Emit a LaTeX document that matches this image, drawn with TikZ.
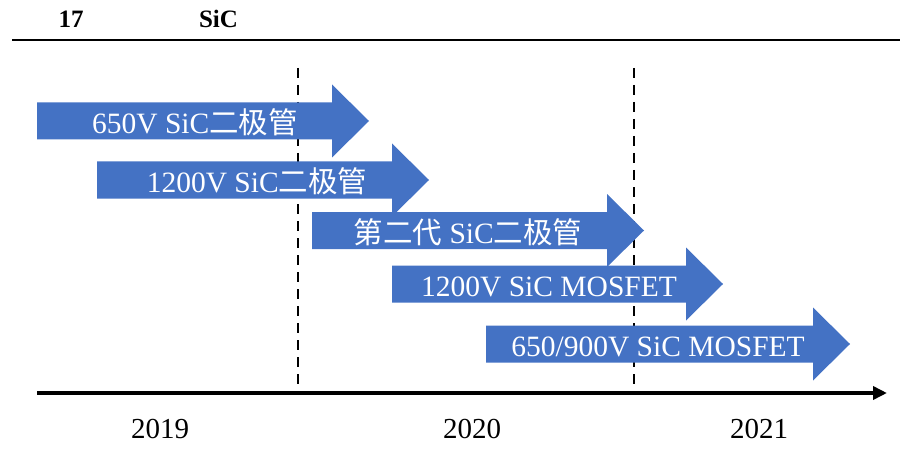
\documentclass[tikz,border=0pt]{standalone}
\usepackage{fontspec}
\setmainfont{Liberation Serif}
\newfontfamily\cjk{Noto Sans CJK SC}
\usetikzlibrary{arrows.meta}
\definecolor{phaseblue}{HTML}{4472C4}
\tikzset{
  phase/.style={
    % The filling:
    fill=phaseblue,
  },
  phase label/.style={
    % Font
    font=\fontsize{29.5}{30}\selectfont,
    text=white,
    anchor=base,
    % padding around node
    inner sep=0pt,
  },
  year/.style={
    font=\fontsize{29}{30}\selectfont,
    anchor=base,
    inner sep=0pt,
  },
  heading/.style={
    font=\fontsize{25}{26}\selectfont\bfseries,
    anchor=base,
    inner sep=0pt,
  },
  boundary/.style={
    % The line:
    line width=2pt,
    dash pattern=on 10pt off 7pt,
  },
}
% #1 = tail x, #2 = where the head starts, #3 = middle y
\newcommand{\phasearrow}[3]{%
  \fill[phase] (#1, #3-18.5) -- (#2, #3-18.5) -- (#2, #3-36.5) -- (#2+37, #3)
    -- (#2, #3+36.5) -- (#2, #3+18.5) -- (#1, #3+18.5) -- cycle;
}

\begin{document}
\begin{tikzpicture}[x=1pt, y=-1pt]

  \useasboundingbox (0, 0) rectangle (909, 457);

  % heading and rule
  \node at (71, 28) (fig no) [heading] {17};
  \node at (218.5, 28) (fig title) [heading] {SiC};
  \coordinate (rule start) at (12, 40);
  \coordinate (rule end) at (900, 40);
  \draw [line width=2.2pt] (rule start) to (rule end);

  % year boundaries
  \coordinate (cut a top) at (297.5, 68);
  \coordinate (cut a bottom) at (297.5, 393);
  \coordinate (cut b top) at (633.5, 68);
  \coordinate (cut b bottom) at (633.5, 393);
  \draw [boundary] (cut a top) to (cut a bottom);
  \draw [boundary] (cut b top) to (cut b bottom);

  % product arrows
  \phasearrow{37}{332}{121}
  \phasearrow{97}{392}{180}
  \phasearrow{312}{607}{230.5}
  \phasearrow{392}{686}{284}
  \phasearrow{486}{813}{344}

  \node at (195, 133.5) (diode 650) [phase label] {650V SiC{\cjk 二极管}};
  \node at (257, 192.5) (diode 1200) [phase label] {1200V SiC{\cjk 二极管}};
  \node at (468, 243) (diode gen2) [phase label] {{\cjk 第二代} SiC{\cjk 二极管}};
  \node at (549, 296.5) (mos 1200) [phase label] {1200V SiC MOSFET};
  \node at (658, 356.5) (mos 650) [phase label] {650/900V SiC MOSFET};

  % time axis
  \coordinate (axis start) at (37, 393);
  \coordinate (axis end) at (887, 393);
  \draw [line width=4.5pt, -{Triangle[length=14pt, width=13pt]}] (axis start) to (axis end);

  \node at (160, 438) (y2019) [year] {2019};
  \node at (472, 438) (y2020) [year] {2020};
  \node at (759, 438) (y2021) [year] {2021};

\end{tikzpicture}
\end{document}
